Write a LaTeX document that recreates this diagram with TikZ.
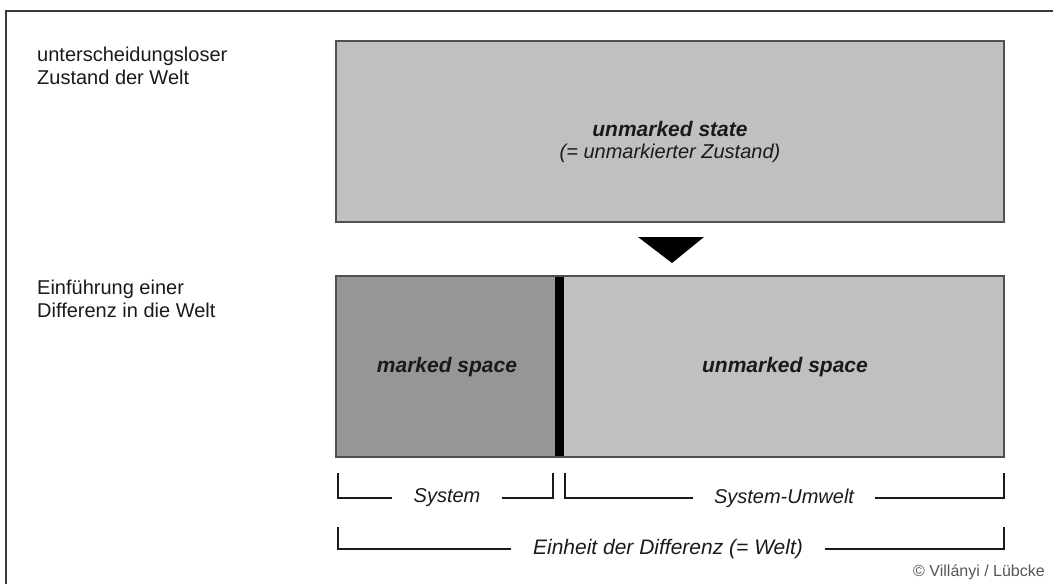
\documentclass[tikz,border=0pt]{standalone}
\usepackage{fontspec}
\setmainfont{Liberation Sans}
\definecolor{lightfill}{HTML}{C0C0C0}
\definecolor{darkfill}{HTML}{969696}
\definecolor{edge}{HTML}{505050}
\definecolor{ink}{HTML}{1A1A1A}
\definecolor{note}{HTML}{555555}
\definecolor{rule}{HTML}{3A3A3A}
\begin{document}
\begin{tikzpicture}[x=1pt,y=-1pt,
  frameline/.style={rule,line width=2.5pt},
  panel/.style={anchor=north west,inner sep=0pt,outer sep=0pt,minimum height=181pt},
  edgeline/.style={edge,line width=1.6pt},
  plain/.style={ink,font=\fontsize{20}{23}\selectfont,inner sep=0pt},
  slant/.style={ink,font=\fontsize{20}{23}\selectfont\itshape,inner sep=0pt},
  heavy/.style={ink,font=\fontsize{21}{24}\selectfont\bfseries\itshape,inner sep=0pt},
  bracketlbl/.style={slant,inner ysep=0pt},
  bracketline/.style={ink,line width=2pt}]
\useasboundingbox (0,0) rectangle (1053,584);

% outer frame: top and left rule
\draw[frameline] (1053,11) -- (6,11) -- (6,584);

% left-hand captions (base anchor sits on the last line)
\node[plain,anchor=base west,align=left] (captop) at (37,84)
  {unterscheidungsloser\\Zustand der Welt};
\node[plain,anchor=base west,align=left] (capbottom) at (37,317)
  {Einführung einer\\Differenz in die Welt};

% upper panel: the unmarked state
\node[panel,fill=lightfill,draw=edge,line width=1.6pt,minimum width=668pt] (state) at (336,41) {};
\node[heavy,anchor=base] (statelbl) at (670,136) {unmarked state};
\node[slant,anchor=base] (statesub) at (670,158) {(= unmarkierter Zustand)};

% downward triangle between the panels
\fill[black] (638,237) -- (704,237) -- (672,263) -- cycle;

% lower panel: marked space | cut | unmarked space
\node[panel,fill=darkfill,minimum width=219pt] (marked) at (336,276) {};
\node[panel,fill=lightfill,minimum width=440pt] (unmarked) at (564,276) {};
\node[panel,fill=black,minimum width=9pt] (cut) at (555,276) {};
\draw[edgeline] (marked.north west) rectangle (unmarked.south east);
\node[heavy,anchor=base] (markedlbl) at (447,372) {marked space};
\node[heavy,anchor=base] (unmarkedlbl) at (785,372) {unmarked space};

% brackets below the lower panel
\coordinate (sysL) at (338,473);
\coordinate (sysR) at (553,473);
\coordinate (envL) at (565,473);
\coordinate (envR) at (1004,473);
\coordinate (allL) at (338,527);
\coordinate (allR) at (1004,527);

\node[bracketlbl,inner xsep=21pt] (syslbl) at (447,498) {System};
\node[bracketlbl,inner xsep=21pt] (envlbl) at (784,498) {System-Umwelt};
\node[bracketlbl,inner xsep=22pt,font=\fontsize{21}{24}\selectfont\itshape] (alllbl) at (668,549)
  {Einheit der Differenz (= Welt)};

\draw[bracketline] (sysL) |- (syslbl.west);
\draw[bracketline] (syslbl.east) -| (sysR);
\draw[bracketline] (envL) |- (envlbl.west);
\draw[bracketline] (envlbl.east) -| (envR);
\draw[bracketline] (allL) |- (alllbl.west);
\draw[bracketline] (alllbl.east) -| (allR);

% credit line
\node[note,font=\fontsize{16}{18}\selectfont,inner sep=0pt,anchor=base east] (credit) at (1045,576)
  {© Villányi / Lübcke};
\end{tikzpicture}
\end{document}
